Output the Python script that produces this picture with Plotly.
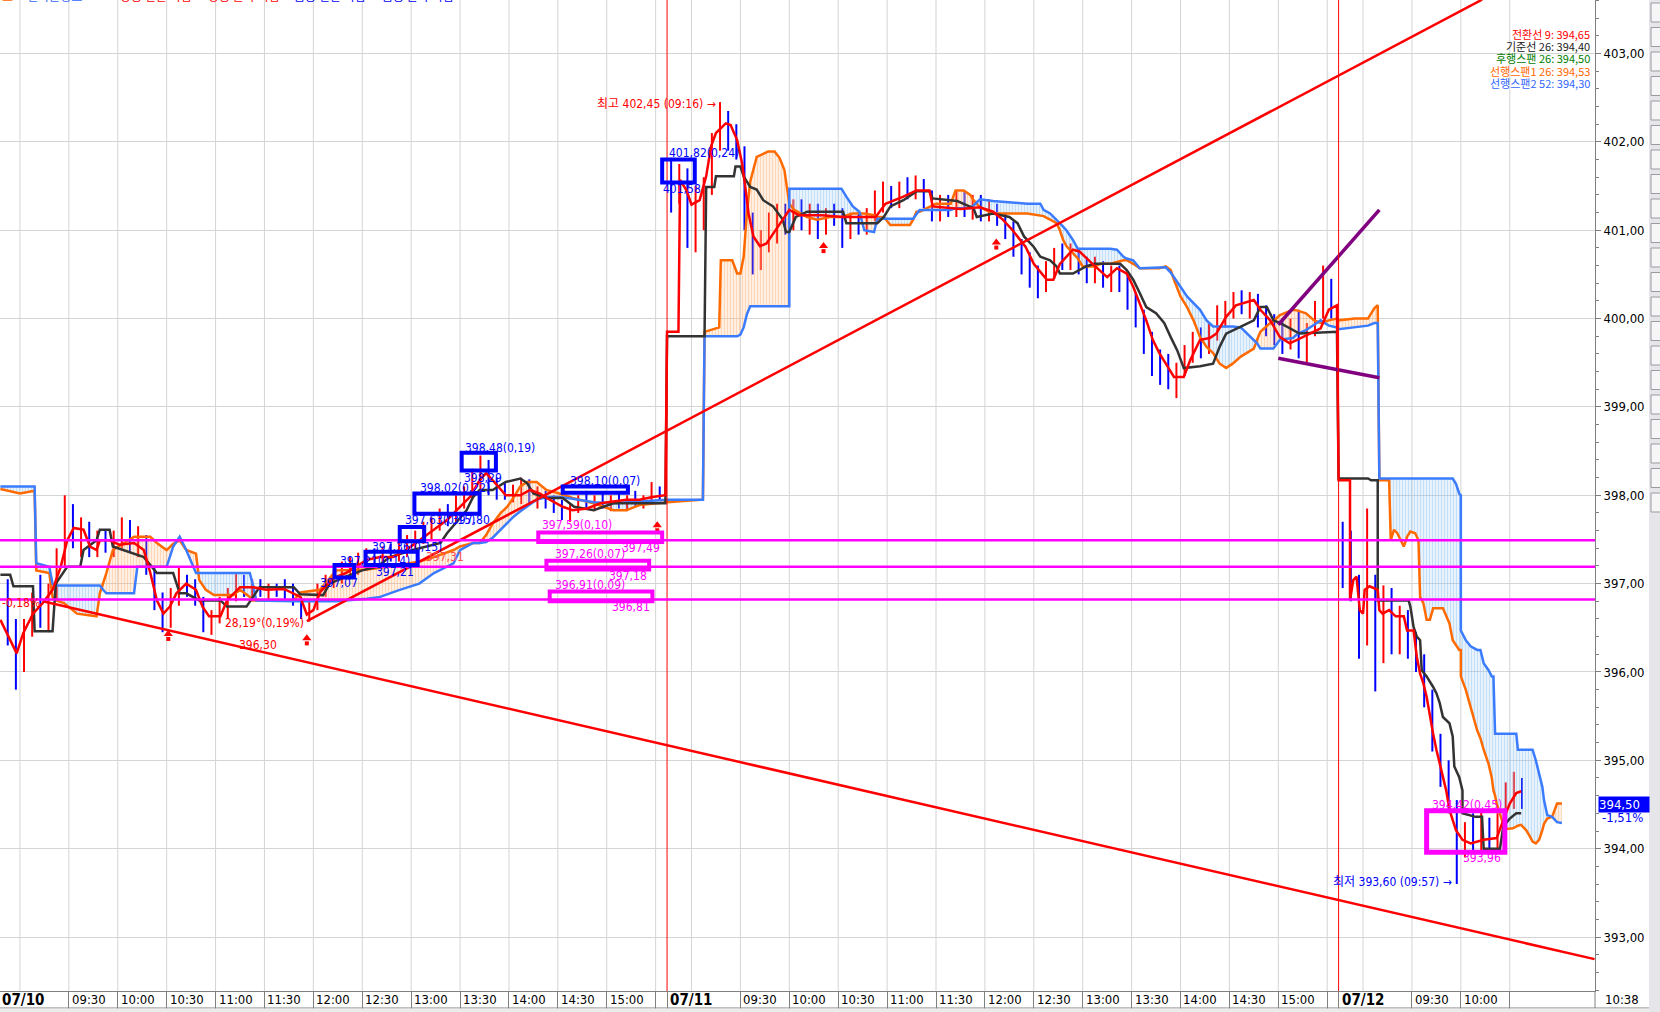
import numpy as np
import plotly.graph_objects as go

# ---------------- axes / layout constants ----------------
DAY_LEN = 412                 # 1-minute bars per session (08:45 - 15:36)
X_MIN, X_MAX = 2.76, 981.3    # visible bar-index range
Y_MIN, Y_MAX = 392.389, 403.606
PW, PH = 1595, 991            # plot area in px
FN = "Liberation Sans Narrow, Arial Narrow, DejaVu Sans Condensed, Noto Sans CJK KR, sans-serif"
FK = "Noto Sans CJK KR, sans-serif"

def tx(s):
    """'DD HH:MM' -> bar index on the session axis"""
    d = int(s[:2]) - 10
    return d * DAY_LEN + int(s[3:5]) * 60 + int(s[6:8]) - 525

# ---------------- 5-minute candles ----------------
d10_start = "10 08:50"
d10_open = [396.9,396.4,396.1,396.5,396.8,396.6,396.9,397.3,397.7,397.5,
            397.6,397.4,397.55,397.45,397.5,397.6,397.4,397.5,397.15,396.8,
            396.6,396.9,397.0,396.95,396.8,396.55,396.65,396.8,396.9,397.0,
            396.9,396.95,396.9,396.95,396.9,396.85,396.8,396.65,396.75,396.95,
            397.0,397.1,397.15,397.2,397.25,397.3,397.28,397.35,397.3,397.4,
            397.45,397.55,397.6,397.7,397.8,397.75,397.95,398.05,398.2,398.3,
            398.1,398.05,398.0,398.05,398.1,397.95,398.0,397.9,397.85,397.8,
            397.85,397.95,397.9,397.95,397.9,397.95,397.9,397.95,397.92,397.95,
            398.05]
d10_high = [397.05,396.6,396.6,396.9,397.1,397.0,397.4,398.0,397.9,397.75,
            397.7,397.6,397.6,397.6,397.75,397.72,397.65,397.55,397.2,396.9,
            396.95,397.2,397.1,397.05,396.85,396.7,396.85,396.95,397.12,397.1,
            397.05,397.05,397.0,397.0,397.05,397.0,396.85,396.8,397.0,397.1,
            397.15,397.25,397.3,397.35,397.4,397.4,397.42,397.45,397.5,397.55,
            397.6,397.7,397.75,397.85,397.9,398.0,398.1,398.3,398.45,398.4,
            398.2,398.15,398.12,398.2,398.18,398.1,398.05,398.0,397.95,397.9,
            398.0,398.05,398.0,398.02,398.0,398.02,398.0,398.05,398.0,398.15,
            398.1]
d10_low = [396.3,395.8,396.0,396.4,396.5,396.45,396.8,397.2,397.4,397.3,
           397.3,397.3,397.35,397.3,397.4,397.35,397.3,397.1,396.7,396.45,
           396.5,396.75,396.85,396.75,396.45,396.42,396.55,396.6,396.8,396.85,
           396.8,396.85,396.82,396.85,396.8,396.75,396.6,396.57,396.7,396.85,
           396.95,397.0,397.05,397.1,397.15,397.2,397.2,397.25,397.25,397.3,
           397.38,397.45,397.5,397.6,397.65,397.7,397.85,397.95,398.05,398.0,
           397.95,397.95,397.92,397.9,397.9,397.85,397.85,397.8,397.72,397.7,
           397.8,397.85,397.82,397.85,397.82,397.85,397.82,397.88,397.85,397.9,
           397.95]
d10_close = [396.4,396.1,396.5,396.8,396.6,396.9,397.3,397.7,397.5,397.6,
             397.4,397.55,397.45,397.5,397.6,397.4,397.5,397.15,396.8,396.6,
             396.9,397.0,396.95,396.8,396.55,396.65,396.8,396.9,397.0,396.9,
             396.95,396.9,396.95,396.9,396.85,396.8,396.65,396.75,396.95,397.0,
             397.1,397.15,397.2,397.25,397.3,397.28,397.35,397.3,397.4,397.45,
             397.55,397.6,397.7,397.8,397.75,397.95,398.05,398.2,398.3,398.1,
             398.05,398.0,398.05,398.1,397.95,398.0,397.9,397.85,397.8,397.85,
             397.95,397.9,397.95,397.9,397.95,397.9,397.95,397.92,397.95,398.05,
             398.0]

d11_start = "11 08:45"
d11_open = [401.75,401.4,401.6,401.1,401.3,401.5,402.0,402.2,402.0,401.9,
            401.1,400.7,400.9,401.0,401.2,401.1,401.25,401.1,401.2,401.05,
            401.2,401.15,400.95,401.1,401.0,401.2,401.35,401.45,401.3,401.5,
            401.45,401.55,401.3,401.2,401.3,401.25,401.35,401.25,401.3,401.2,
            401.25,401.1,401.0,400.8,400.6,400.45,400.4,400.55,400.7,400.65,
            400.75,400.6,400.5,400.6,400.45,400.5,400.4,400.2,400.0,399.7,
            399.5,399.4,399.35,399.45,399.6,399.75,399.7,399.85,400.05,400.1,
            400.2,400.15,400.25,400.0,399.9,399.8,399.75,399.9,399.7,399.85,
            400.1,400.3]
d11_high = [401.82,401.75,401.7,401.5,401.6,402.1,402.45,402.35,402.2,401.95,
            401.2,401.0,401.2,401.3,401.3,401.35,401.35,401.3,401.3,401.25,
            401.3,401.25,401.2,401.2,401.25,401.45,401.55,401.5,401.55,401.6,
            401.62,401.58,401.45,401.4,401.4,401.45,401.45,401.4,401.4,401.35,
            401.3,401.2,401.1,400.9,400.75,400.6,400.65,400.8,400.85,400.85,
            400.8,400.7,400.7,400.65,400.6,400.6,400.5,400.3,400.1,399.85,
            399.65,399.6,399.5,399.7,399.85,399.9,399.95,400.15,400.2,400.3,
            400.32,400.3,400.28,400.15,400.05,400.0,400.0,400.1,399.95,400.2,
            400.6,400.45]
d11_low = [401.2,401.3,400.8,400.75,401.0,401.4,401.9,401.9,401.8,401.0,
           400.5,400.55,400.75,400.85,400.95,401.0,401.0,400.95,400.9,400.95,
           401.05,400.8,400.9,400.95,400.95,401.1,401.2,401.25,401.25,401.35,
           401.35,401.25,401.1,401.1,401.15,401.15,401.15,401.12,401.1,401.1,
           401.05,400.9,400.7,400.5,400.35,400.23,400.3,400.45,400.55,400.55,
           400.5,400.4,400.4,400.35,400.3,400.3,400.1,399.9,399.6,399.35,
           399.25,399.2,399.1,399.35,399.5,399.55,399.6,399.75,399.9,400.0,
           400.05,400.0,399.9,399.8,399.7,399.6,399.65,399.55,399.5,399.8,
           400.0,400.0]
d11_close = [401.4,401.6,401.1,401.3,401.5,402.0,402.2,402.0,401.9,401.1,
             400.7,400.9,401.0,401.2,401.1,401.25,401.1,401.2,401.05,401.2,
             401.15,400.95,401.1,401.0,401.2,401.35,401.45,401.3,401.5,401.45,
             401.55,401.3,401.2,401.3,401.25,401.35,401.25,401.3,401.2,401.25,
             401.1,401.0,400.8,400.6,400.45,400.4,400.55,400.7,400.65,400.75,
             400.6,400.5,400.6,400.45,400.5,400.4,400.2,400.0,399.7,399.5,
             399.4,399.35,399.45,399.6,399.75,399.7,399.85,400.05,400.1,400.2,
             400.15,400.25,400.0,399.9,399.8,399.75,399.9,399.7,399.85,400.1,
             400.3,400.2]

d12_start = "12 08:45"
d12_open = [397.6,397.1,396.9,396.4,397.0,396.6,396.8,396.5,396.6,396.3,396.1,395.7,
            395.2,394.85,394.5,394.0,394.2,394.05,394.3,394.1,394.3,394.6,394.65]
d12_high = [397.7,397.6,397.1,397.85,397.1,396.98,396.95,396.75,396.7,396.45,396.2,395.8,
            395.3,395.0,394.55,394.3,394.4,394.42,394.35,394.4,394.75,394.87,394.8]
d12_low = [396.95,396.8,396.15,396.3,395.78,396.1,396.2,396.2,396.15,396.0,395.6,395.1,
           394.7,394.4,393.6,393.9,393.96,393.98,393.96,394.0,394.25,394.45,394.45]
d12_close = [397.1,396.9,396.4,397.0,396.6,396.8,396.5,396.6,396.3,396.1,395.7,395.2,
             394.85,394.5,394.0,394.2,394.05,394.3,394.1,394.3,394.6,394.65,394.5]

# ---------------- Ichimoku lines ----------------
tenkan_t = ["10 08:48","10 08:54","10 08:58","10 09:02","10 09:08","10 09:14","10 09:20","10 09:25",
            "10 09:29","10 09:33","10 09:39","10 09:43","10 09:47","10 09:49","10 09:55","10 10:01",
            "10 10:10","10 10:16","10 10:20","10 10:24","10 10:28","10 10:32","10 10:36","10 10:42",
            "10 10:48","10 10:52","10 10:56","10 11:03","10 11:07","10 11:15","10 11:23","10 11:31",
            "10 11:42","10 11:52","10 11:56","10 12:00","10 12:04","10 12:12","10 12:20","10 12:26",
            "10 12:33","10 12:41","10 12:49","10 12:57","10 13:05","10 13:14","10 13:22","10 13:30",
            "10 13:36","10 13:42","10 13:46","10 13:52","10 13:58","10 14:07","10 14:13","10 14:19",
            "10 14:25","10 14:33","10 14:39","10 14:48","10 14:56","10 15:04","10 15:12","10 15:20",
            "10 15:28","10 15:36",
            "11 08:45","11 08:52","11 08:53","11 08:57","11 09:00","11 09:05","11 09:09","11 09:12",
            "11 09:15","11 09:21","11 09:24","11 09:28","11 09:31","11 09:33","11 09:35","11 09:38",
            "11 09:42","11 09:46","11 09:49","11 09:52","11 09:56","11 10:00","11 10:06","11 10:20",
            "11 10:33","11 10:53","11 10:59","11 11:10","11 11:18","11 11:26","11 11:28","11 11:45",
            "11 11:57","11 12:05","11 12:11","11 12:17","11 12:25","11 12:30","11 12:38","11 12:42",
            "11 12:46","11 12:54","11 12:58","11 13:06","11 13:15","11 13:21","11 13:27","11 13:31",
            "11 13:35","11 13:39","11 13:43","11 13:47","11 13:51","11 13:56","11 14:02","11 14:06",
            "11 14:12","11 14:18","11 14:22","11 14:28","11 14:34","11 14:45","11 14:49","11 14:55",
            "11 15:01","11 15:07","11 15:15","11 15:26","11 15:31","11 15:36",
            "12 08:45","12 08:52","12 08:52","12 08:54","12 08:56","12 08:58","12 09:00","12 09:01",
            "12 09:04","12 09:09","12 09:10","12 09:12","12 09:16","12 09:20","12 09:25","12 09:27",
            "12 09:31","12 09:33","12 09:35","12 09:37","12 09:39","12 09:41","12 09:43","12 09:45",
            "12 09:47","12 09:49","12 09:51","12 09:53","12 09:57","12 10:01","12 10:06","12 10:14",
            "12 10:22","12 10:26","12 10:30","12 10:34","12 10:37"]
tenkan_v = [396.59,396.36,396.21,396.44,396.66,396.78,396.93,397.19,
            397.49,397.63,397.61,397.42,397.38,397.49,397.49,397.44,
            397.46,397.38,397.12,396.81,396.66,396.74,396.89,397.0,
            396.93,396.74,396.63,396.63,396.81,396.96,396.96,396.93,
            396.94,396.85,396.65,396.70,396.90,397.06,397.12,397.19,
            397.27,397.30,397.30,397.38,397.49,397.61,397.72,397.87,
            397.98,398.17,398.25,398.13,398.0,398.0,398.06,398.02,
            397.95,397.87,397.83,397.85,397.91,397.93,397.95,397.95,
            397.98,398.0,
            399.85,399.85,401.57,401.45,401.29,401.34,401.61,401.95,
            402.10,402.21,402.19,402.02,401.76,401.49,401.19,400.93,
            400.82,400.85,400.93,401.0,401.12,401.23,401.17,401.17,
            401.15,401.15,401.30,401.38,401.45,401.45,401.27,401.24,
            401.26,401.21,401.12,401.0,400.81,400.62,400.44,400.44,
            400.62,400.78,400.76,400.62,400.47,400.57,400.51,400.36,
            400.17,399.98,399.76,399.61,399.49,399.34,399.34,399.53,
            399.76,399.78,399.83,400.02,400.15,400.21,400.10,399.98,
            399.79,399.72,399.79,399.89,400.10,400.15,
            398.17,398.17,396.81,397.04,397.08,396.70,396.66,396.93,
            396.97,396.93,396.70,396.66,396.70,396.63,396.63,396.47,
            396.47,396.17,395.98,395.87,395.72,395.49,395.30,395.12,
            394.97,394.81,394.66,394.44,394.21,394.10,394.06,394.10,
            394.12,394.32,394.51,394.63,394.65]

kijun_t = ["10 08:48","10 08:54","10 08:56","10 09:08","10 09:09","10 09:20","10 09:22","10 09:29",
           "10 09:37","10 09:39","10 09:47","10 09:49","10 09:55","10 09:57","10 10:16","10 10:24",
           "10 10:34","10 10:38","10 10:42","10 10:50","10 11:03","10 11:07","10 11:19","10 11:23",
           "10 11:27","10 11:48","10 11:52","10 12:06","10 12:10","10 12:20","10 12:30","10 12:39",
           "10 12:47","10 13:01","10 13:10","10 13:18","10 13:22","10 13:26","10 13:34","10 13:38",
           "10 13:42","10 13:50","10 13:58","10 14:07","10 14:11","10 14:15","10 14:23","10 14:33",
           "10 14:40","10 14:52","10 15:04","10 15:36",
           "11 08:45","11 09:08","11 09:09","11 09:14","11 09:15","11 09:26","11 09:27","11 09:30",
           "11 09:32","11 09:36","11 09:40","11 09:44","11 09:50","11 09:56","11 09:58","11 10:00",
           "11 10:04","11 10:11","11 10:33","11 10:35","11 10:54","11 10:58","11 11:02","11 11:10",
           "11 11:18","11 11:26","11 11:28","11 11:43","11 11:53","11 11:55","11 12:05","11 12:15",
           "11 12:20","11 12:24","11 12:30","11 12:34","11 12:40","11 12:44","11 12:46","11 12:54",
           "11 13:02","11 13:07","11 13:23","11 13:27","11 13:31","11 13:35","11 13:39","11 13:45",
           "11 13:50","11 13:54","11 13:58","11 14:01","11 14:02","11 14:12","11 14:20","11 14:24",
           "11 14:28","11 14:37","11 14:45","11 14:49","11 14:53","11 14:57","11 15:01","11 15:13",
           "11 15:36",
           "12 08:45","12 09:03","12 09:05","12 09:09","12 09:09","12 09:28","12 09:29","12 09:31",
           "12 09:33","12 09:35","12 09:36","12 09:39","12 09:43","12 09:45","12 09:47","12 09:49",
           "12 09:53","12 09:55","12 09:56","12 09:59","12 10:01","12 10:01","12 10:09","12 10:13",
           "12 10:14","12 10:24","12 10:26","12 10:30","12 10:34","12 10:37"]
kijun_v = [397.10,397.10,396.97,396.97,396.46,396.46,397.0,397.19,
           397.19,397.38,397.49,397.61,397.61,397.42,397.30,397.12,
           397.12,396.89,396.89,396.81,396.81,396.74,396.74,396.85,
           396.96,396.96,396.88,396.87,397.0,397.08,397.15,397.19,
           397.30,397.38,397.42,397.46,397.57,397.66,397.83,397.98,
           398.06,398.06,398.15,398.19,398.14,398.02,397.97,397.97,
           397.87,397.83,397.91,397.91,
           399.80,399.80,401.49,401.49,401.61,401.61,401.72,401.72,
           401.61,401.49,401.46,401.34,401.27,401.12,400.98,400.98,
           401.15,401.21,401.21,401.08,401.08,401.15,401.27,401.34,
           401.44,401.44,401.36,401.33,401.25,401.15,401.19,401.15,
           401.08,400.93,400.81,400.70,400.66,400.59,400.51,400.51,
           400.59,400.62,400.62,400.55,400.44,400.29,400.13,400.06,
           399.95,399.79,399.64,399.49,399.44,399.46,399.49,399.68,
           399.83,399.91,399.98,400.13,400.13,399.98,399.95,399.83,
           399.85,
           398.19,398.19,398.17,398.17,396.81,396.81,396.74,396.51,
           396.40,396.36,396.02,395.95,395.83,395.76,395.65,395.49,
           395.42,395.27,394.93,394.81,394.66,394.40,394.36,394.36,
           394.0,394.0,394.25,394.34,394.40,394.40]

span_t = ["10 08:48","10 09:00","10 09:09","10 09:10","10 09:18","10 09:20","10 09:22","10 09:27",
          "10 09:35","10 09:47","10 09:49","10 09:51","10 09:53","10 09:57","10 10:10","10 10:12",
          "10 10:20","10 10:24","10 10:30","10 10:34","10 10:38","10 10:42","10 10:48","10 10:50",
          "10 10:54","10 10:59","10 11:11","10 11:15","10 11:21","10 11:23","10 11:25","10 11:48",
          "10 11:52","10 12:04","10 12:14","10 12:33","10 12:41","10 12:53","10 13:05","10 13:14",
          "10 13:26","10 13:30","10 13:38","10 13:42","10 13:46","10 13:50","10 13:55","10 13:59",
          "10 14:03","10 14:07","10 14:11","10 14:17","10 14:23","10 14:31","10 14:39","10 14:52",
          "10 15:04","10 15:12","10 15:20","10 15:36",
          "11 08:45","11 09:07","11 09:08","11 09:17","11 09:18","11 09:25","11 09:28","11 09:30",
          "11 09:32","11 09:34","11 09:36","11 09:40","11 09:47","11 09:51","11 09:54","11 09:57",
          "11 10:00","11 10:00","11 10:03","11 10:05","11 10:11","11 10:17","11 10:25","11 10:32",
          "11 10:35","11 10:39","11 10:43","11 10:46","11 10:52","11 10:54","11 10:58","11 11:02",
          "11 11:14","11 11:16","11 11:18","11 11:20","11 11:30","11 11:39","11 11:42","11 11:47",
          "11 11:51","11 11:53","11 11:57","11 12:05","11 12:26","11 12:34","11 12:36","11 12:40",
          "11 12:44","11 12:46","11 12:48","11 12:50","11 12:54","11 12:57","11 13:00","11 13:07",
          "11 13:11","11 13:17","11 13:21","11 13:25","11 13:27","11 13:31","11 13:35","11 13:47",
          "11 13:51","11 13:54","11 13:56","11 14:00","11 14:04","11 14:08","11 14:12","11 14:16",
          "11 14:20","11 14:24","11 14:28","11 14:32","11 14:37","11 14:41","11 14:45","11 14:47",
          "11 14:49","11 14:55","11 14:57","11 15:01","11 15:09","11 15:12","11 15:17","11 15:22",
          "11 15:26","11 15:31","11 15:36",
          "12 08:45","12 08:55","12 09:03","12 09:07","12 09:09","12 09:10","12 09:16","12 09:17",
          "12 09:19","12 09:21","12 09:25","12 09:27","12 09:29","12 09:32","12 09:34","12 09:35",
          "12 09:37","12 09:39","12 09:41","12 09:43","12 09:49","12 09:51","12 09:53","12 09:55",
          "12 09:57","12 09:59","12 10:00","12 10:00","12 10:03","12 10:06","12 10:10","12 10:12",
          "12 10:14","12 10:17","12 10:19","12 10:20","12 10:21","12 10:22","12 10:24","12 10:27",
          "12 10:32","12 10:34","12 10:35","12 10:37","12 10:40","12 10:42","12 10:44","12 10:46",
          "12 10:48","12 10:50","12 10:51","12 10:53","12 10:56","12 10:59","12 11:02"]
span1_v = [398.07,398.02,398.05,397.15,397.12,396.85,396.81,396.78,
           396.66,396.63,396.89,397.0,397.12,397.38,397.53,397.53,
           397.53,397.46,397.38,397.45,397.49,397.38,397.34,397.04,
           396.93,396.87,396.87,396.93,396.85,396.81,396.81,396.81,
           396.90,396.93,397.15,397.16,397.18,397.21,397.25,397.30,
           397.38,397.42,397.46,397.46,397.55,397.68,397.80,397.87,
           397.98,398.10,398.15,398.15,398.06,398.02,397.97,397.91,
           397.83,397.83,397.89,397.92,
           397.92,397.95,399.85,399.90,400.66,400.66,400.51,400.51,
           400.70,401.20,401.55,401.83,401.89,401.89,401.82,401.68,
           401.32,401.30,401.23,401.21,401.15,401.12,401.15,401.15,
           401.17,401.19,401.19,401.19,401.17,401.15,401.15,401.06,
           401.06,401.12,401.21,401.21,401.30,401.30,401.45,401.45,
           401.40,401.34,401.26,401.19,401.19,401.17,401.16,401.12,
           401.08,401.0,400.89,400.82,400.74,400.68,400.59,400.59,
           400.62,400.62,400.64,400.66,400.66,400.62,400.57,400.57,
           400.59,400.55,400.44,400.25,400.13,399.98,399.79,399.68,
           399.61,399.49,399.44,399.49,399.57,399.62,399.66,399.76,
           399.85,399.95,399.97,400.04,400.10,400.09,400.06,399.98,
           399.95,399.98,400.00,
           399.98,400.0,400.0,400.12,400.15,398.17,398.17,397.49,
           397.61,397.57,397.42,397.53,397.59,397.57,397.49,396.85,
           396.78,396.59,396.59,396.72,396.72,396.63,396.55,396.36,
           396.30,396.25,396.25,395.95,395.80,395.61,395.34,395.25,
           395.12,394.96,394.80,394.66,394.60,394.51,394.40,394.22,
           394.23,394.25,394.26,394.27,394.21,394.15,394.08,394.06,
           394.10,394.21,394.28,394.34,394.36,394.51,394.51]
span2_v = [398.10,398.10,398.10,397.23,397.19,397.0,396.98,396.98,
           396.98,396.98,396.98,396.93,396.89,396.89,396.89,397.19,
           397.19,397.19,397.19,397.42,397.53,397.38,397.12,397.12,
           397.12,397.12,397.12,397.12,397.12,396.98,396.81,396.80,
           396.80,396.80,396.80,396.83,396.85,396.93,397.0,397.12,
           397.23,397.38,397.46,397.46,397.47,397.52,397.61,397.68,
           397.76,397.82,397.87,397.95,397.98,397.98,397.96,397.92,
           397.91,397.92,397.93,397.95,
           397.95,397.95,399.80,399.80,399.80,399.80,399.80,399.82,
           399.90,400.05,400.14,400.14,400.14,400.14,400.14,400.14,
           400.14,401.47,401.47,401.47,401.47,401.47,401.47,401.47,
           401.38,401.27,401.21,401.0,400.98,401.13,401.13,401.13,
           401.13,401.13,401.18,401.23,401.23,401.23,401.25,401.25,
           401.25,401.28,401.35,401.33,401.30,401.30,401.23,401.19,
           401.12,401.08,401.04,401.0,400.89,400.79,400.79,400.79,
           400.79,400.79,400.78,400.70,400.68,400.66,400.57,400.58,
           400.58,400.52,400.47,400.36,400.25,400.17,400.10,399.98,
           399.91,399.91,399.91,399.91,399.90,399.83,399.76,399.72,
           399.66,399.66,399.66,399.76,399.78,399.83,399.87,399.93,
           399.98,399.92,399.90,
           399.88,399.90,399.92,399.95,399.95,398.19,398.19,398.19,
           398.19,398.19,398.19,398.19,398.19,398.19,398.19,398.19,
           398.19,398.19,398.19,398.19,398.19,398.19,398.19,398.19,
           398.13,398.02,398.0,396.47,396.36,396.29,396.25,396.25,
           396.10,396.02,395.95,395.95,395.30,395.30,395.30,395.30,
           395.30,395.30,395.12,395.12,395.12,395.12,395.12,395.0,
           394.85,394.70,394.55,394.38,394.36,394.30,394.29]

# ---------------- drawings ----------------
trend_down = (["10 09:14", "12 11:22"], [396.80, 392.75])
trend_up = (["10 11:56", "12 10:13"], [396.575, 403.61])
purple_up = (["11 15:00", "12 09:10"], [399.93, 401.23])
purple_dn = (["11 15:00", "12 09:10"], [399.55, 399.33])
magenta_levels = [397.49, 397.19, 396.82]
day_breaks = ["11 08:45", "12 08:45"]
blue_boxes = [("10 12:13", "10 12:25", 397.07, 397.21),
              ("10 12:32", "10 13:04", 397.21, 397.36),
              ("10 12:53", "10 13:08", 397.48, 397.64),
              ("10 13:31", "10 13:52", 398.28, 398.48),
              ("10 13:02", "10 13:42", 397.79, 398.02),
              ("10 14:33", "10 15:13", 398.03, 398.10),
              ("10 15:34", "11 09:02", 401.54, 401.80)]
magenta_boxes = [("10 14:18", "10 15:34", 397.47, 397.58),
                 ("10 14:23", "10 15:26", 397.16, 397.26),
                 ("10 14:25", "10 15:28", 396.80, 396.91),
                 ("12 09:39", "12 10:27", 393.96, 394.43)]
arrows = [("10 10:31", 396.47), ("10 11:56", 396.42), ("10 15:31", 397.70),
          ("11 10:21", 400.86), ("11 12:07", 400.90)]
labels = [  # time, price, text, color, anchor
    ("10 13:32", 398.54, "398,48(0,19)", "#0000ff", "left"),
    ("10 13:31", 398.20, "398,29", "#0000ff", "left"),
    ("10 13:04", 398.08, "398,02(0,22)", "#0000ff", "left"),
    ("10 13:24", 397.72, "397,80", "#0000ff", "left"),
    ("10 12:55", 397.72, "397,63(0,15)", "#0000ff", "left"),
    ("10 12:35", 397.42, "397,36(0,15)", "#0000ff", "left"),
    ("10 12:37", 397.13, "397,21", "#0000ff", "left"),
    ("10 12:15", 397.26, "397,21(0,14)", "#0000ff", "left"),
    ("10 12:03", 397.01, "397,07", "#0000ff", "left"),
    ("10 14:36", 398.16, "398,10(0,07)", "#0000ff", "left"),
    ("11 08:45", 401.87, "401,82(0,24)", "#0000ff", "left"),
    ("10 15:33", 401.47, "401,58", "#0000ff", "left"),
    ("12 09:56", 393.62, "최저 393,60 (09:57) →", "#0000ff", "right"),
    ("11 09:16", 402.43, "최고 402,45 (09:16) →", "#ff0000", "right"),
    ("10 11:30", 396.55, "28,19°(0,19%)", "#ff0000", "center"),
    ("10 11:26", 396.30, "396,30", "#ff0000", "center"),
    ("10 13:21", 397.30, "397,31", "#ff5050", "center"),
    ("10 14:19", 397.66, "397,59(0,10)", "#ff00ff", "left"),
    ("10 15:34", 397.40, "397,49", "#ff00ff", "right"),
    ("10 14:27", 397.33, "397,26(0,07)", "#ff00ff", "left"),
    ("10 15:26", 397.09, "397,18", "#ff00ff", "right"),
    ("10 14:27", 396.98, "396,91(0,09)", "#ff00ff", "left"),
    ("10 15:28", 396.73, "396,81", "#ff00ff", "right"),
    ("12 09:41", 394.50, "394,42(0,45)", "#ff00ff", "left"),
    ("12 10:26", 393.90, "393,96", "#ff00ff", "right"),
]
legend_rows = [("전환선 9: 394,65", "#ff0000"), ("기준선 26: 394,40", "#222222"),
               ("후행스팬 26: 394,50", "#008000"), ("선행스팬1 26: 394,53", "#ff6600"),
               ("선행스팬2 52: 394,30", "#3366ff")]
last_price, last_change = "394,50", "-1,51%"
y_ticks = [393, 394, 395, 396, 397, 398, 399, 400, 401, 402, 403]
y_ticktext = ["393,00", "394,00", "395,00", "396,00", "397,00", "398,00", "399,00",
              "400,00", "401,00", "402,00", "403,00"]
date_labels = [("10", "07/10"), ("11", "07/11"), ("12", "07/12")]
time_labels = ["09:30", "10:00", "10:30", "11:00", "11:30", "12:00", "12:30", "13:00",
               "13:30", "14:00", "14:30", "15:00"]
time_labels_d12 = ["09:30", "10:00"]
grid_times = ["09:00", "09:30", "10:00", "10:30", "11:00", "11:30", "12:00", "12:30",
              "13:00", "13:30", "14:00", "14:30", "15:00", "15:30"]
grid_times_d12 = ["09:00", "09:30", "10:00", "10:30"]
sep_times = ["09:30", "10:00", "10:30", "11:00", "11:30", "12:00", "12:30", "13:00",
             "13:30", "14:00", "14:30", "15:00", "15:30"]
sep_times_d12 = ["09:30", "10:00", "10:30"]
now_label = "10:38"

# ---------------- build figure ----------------
fig = go.Figure()

sx = [tx(t) for t in span_t]
s1 = np.array(span1_v)
s2 = np.array(span2_v)
upper = np.maximum(s1, s2)
lower = np.minimum(s1, s2)
nolines = dict(width=0, color="rgba(0,0,0,0)")
# orange cloud (span1 above span2)
fig.add_trace(go.Scatter(x=sx, y=s2, mode="lines", line=nolines, hoverinfo="skip"))
fig.add_trace(go.Scatter(x=sx, y=upper, mode="lines", line=nolines, fill="tonexty",
                         fillcolor="rgba(0,0,0,0)",
                         fillpattern=dict(shape="|", fgcolor="#ffb070", size=3, solidity=0.6),
                         hoverinfo="skip"))
# blue cloud (span2 above span1)
fig.add_trace(go.Scatter(x=sx, y=s2, mode="lines", line=nolines, hoverinfo="skip"))
fig.add_trace(go.Scatter(x=sx, y=lower, mode="lines", line=nolines, fill="tonexty",
                         fillcolor="rgba(0,0,0,0)",
                         fillpattern=dict(shape="|", fgcolor="#88c0f2", size=3, solidity=0.6),
                         hoverinfo="skip"))
fig.add_trace(go.Scatter(x=sx, y=span1_v, mode="lines", line=dict(color="#ff6a00", width=2.5),
                         hoverinfo="skip"))
fig.add_trace(go.Scatter(x=sx, y=span2_v, mode="lines", line=dict(color="#3b7cff", width=2.5),
                         hoverinfo="skip"))

# candles
cx, co, ch, cl, cc = [], [], [], [], []
for start, o, h, l, c in [(d10_start, d10_open, d10_high, d10_low, d10_close),
                          (d11_start, d11_open, d11_high, d11_low, d11_close),
                          (d12_start, d12_open, d12_high, d12_low, d12_close)]:
    x0 = tx(start)
    for i in range(len(o)):
        cx.append(x0 + 5 * i + 2.5)
    co += o; ch += h; cl += l; cc += c
fig.add_trace(go.Ohlc(x=cx, open=co, high=ch, low=cl, close=cc, tickwidth=0,
                      increasing=dict(line=dict(color="#ff0000", width=2)),
                      decreasing=dict(line=dict(color="#0000ff", width=2)),
                      hoverinfo="skip"))

fig.add_trace(go.Scatter(x=[tx(t) for t in kijun_t], y=kijun_v, mode="lines",
                         line=dict(color="#333333", width=2.5), hoverinfo="skip"))
fig.add_trace(go.Scatter(x=[tx(t) for t in tenkan_t], y=tenkan_v, mode="lines",
                         line=dict(color="#ff0000", width=2.5), hoverinfo="skip"))

# trend lines
for (tt, vv), col, w in [(trend_down, "#ff0000", 2.5), (trend_up, "#ff0000", 2.5),
                         (purple_up, "#800080", 3.5), (purple_dn, "#800080", 3.5)]:
    fig.add_trace(go.Scatter(x=[tx(t) for t in tt], y=vv, mode="lines",
                             line=dict(color=col, width=w), hoverinfo="skip"))

# arrows
px_price = (Y_MAX - Y_MIN) / PH
ax_ = [tx(t) for t, p in arrows]
fig.add_trace(go.Scatter(x=ax_, y=[p - 3.5 * px_price for t, p in arrows], mode="markers",
                         marker=dict(symbol="triangle-up", size=8, color="#ff0000"),
                         hoverinfo="skip"))
fig.add_trace(go.Scatter(x=ax_, y=[p - 8.5 * px_price for t, p in arrows], mode="markers",
                         marker=dict(symbol="square", size=4, color="#ff0000"),
                         hoverinfo="skip"))

# vertical grid (below)
grid_x = [tx(f"{d} {g}") for d in ("10", "11") for g in grid_times] + \
         [tx(f"12 {g}") for g in grid_times_d12]
for gx in grid_x:
    fig.add_shape(type="line", x0=gx, x1=gx, y0=Y_MIN, y1=Y_MAX, xref="x", yref="y",
                  line=dict(color="#d4d4d4", width=1), layer="below")

# day breaks
for t in day_breaks:
    fig.add_shape(type="line", x0=tx(t), x1=tx(t), y0=Y_MIN, y1=Y_MAX, xref="x", yref="y",
                  line=dict(color="#ff0000", width=1))
# magenta levels
for lv in magenta_levels:
    fig.add_shape(type="line", x0=X_MIN, x1=X_MAX, y0=lv, y1=lv, xref="x", yref="y",
                  line=dict(color="#ff00ff", width=2.5))
for t0, t1, lo, hi in blue_boxes:
    fig.add_shape(type="rect", x0=tx(t0), x1=tx(t1), y0=lo, y1=hi, xref="x", yref="y",
                  line=dict(color="#0000ff", width=4))
for i, (t0, t1, lo, hi) in enumerate(magenta_boxes):
    fig.add_shape(type="rect", x0=tx(t0), x1=tx(t1), y0=lo, y1=hi, xref="x", yref="y",
                  line=dict(color="#ff00ff", width=5 if i == 3 else 4))

for t, p, txt, col, anc in labels:
    fig.add_annotation(x=tx(t), y=p, text=txt, showarrow=False, xanchor=anc, yanchor="middle",
                       font=dict(family=FN, size=12, color=col))
fig.add_annotation(x=0, xref="paper", y=396.78, yref="y", text="-0,18%", showarrow=False,
                   xanchor="left", font=dict(family=FN, size=12, color="#ff0000"))

# legend block (top right)
for i, (txt, col) in enumerate(legend_rows):
    ypx = 34.3 + i * 12.1
    fig.add_annotation(x=1590.7 / PW, xref="paper", y=1 - ypx / PH, yref="paper", text=txt,
                       showarrow=False, xanchor="right", yanchor="middle", borderpad=0,
                       font=dict(family="Liberation Sans Narrow, Noto Sans CJK KR, sans-serif",
                                 size=11, color=col))

# cut-off header texts at the very top
header = [(0, "표", "#ff6600"), (25, "일목균형표", "#3366ff"), (103, "-", "#999999"),
          (118, "양봉 전환 시점", "#ff0000"), (190, "-", "#999999"),
          (206, "양봉 돌파 시점", "#ff0000"), (278, "-", "#999999"),
          (292, "음봉 전환 시점", "#0000ff"), (365, "-", "#999999"),
          (380, "음봉 돌파 시점", "#0000ff")]
for xp, txt, col in header:
    fig.add_annotation(x=xp / PW, xref="paper", y=1 - 6 / PH, yref="paper", text=txt,
                       showarrow=False, xanchor="left", yanchor="bottom",
                       font=dict(family=FK, size=12, color=col))

# x-axis labels (left aligned beside separators)
ylab = 1 - 999.5 / PH
fig.add_annotation(x=0, xref="paper", y=ylab, yref="paper", text="<b>07/10</b>",
                   showarrow=False, xanchor="left", yanchor="middle",
                   font=dict(family=FN, size=15, color="#000000"))
for d, txt in date_labels[1:]:
    fig.add_annotation(x=tx(f"{d} 08:45") + 0.6, y=ylab, yref="paper", text=f"<b>{txt}</b>",
                       showarrow=False, xanchor="left", yanchor="middle",
                       font=dict(family=FN, size=15, color="#000000"))
for d in ("10", "11"):
    for tl in time_labels:
        fig.add_annotation(x=tx(f"{d} {tl}") + 0.6, y=ylab, yref="paper", text=tl,
                           showarrow=False, xanchor="left", yanchor="middle",
                           font=dict(family=FN, size=13, color="#000000"))
for tl in time_labels_d12:
    fig.add_annotation(x=tx(f"12 {tl}") + 0.6, y=ylab, yref="paper", text=tl,
                       showarrow=False, xanchor="left", yanchor="middle",
                       font=dict(family=FN, size=13, color="#000000"))
fig.add_annotation(x=1603 / PW, xref="paper", y=ylab, yref="paper", text=now_label,
                   showarrow=False, xanchor="left", yanchor="middle",
                   font=dict(family=FN, size=13, color="#000000"))

# current price tag
fig.add_annotation(x=1598 / PW, xref="paper", y=394.50, yref="y", text=last_price,
                   showarrow=False, xanchor="left", yanchor="middle", bgcolor="#0000ff",
                   borderpad=0, width=50, align="left",
                   font=dict(family=FN, size=13, color="#ffffff"))
fig.add_annotation(x=1601 / PW, xref="paper", y=394.35, yref="y", text=last_change,
                   showarrow=False, xanchor="left", yanchor="middle", borderpad=0,
                   font=dict(family=FN, size=13, color="#0000ff"))

# frame pieces outside the plot
yb = 1 - 1008 / PH
fig.add_shape(type="line", xref="paper", yref="paper", x0=0, x1=1649 / PW, y0=yb, y1=yb,
              line=dict(color="#808080", width=1))
fig.add_shape(type="line", xref="paper", yref="paper", x0=1, x1=1, y0=0, y1=yb,
              line=dict(color="#808080", width=1))
fig.add_shape(type="rect", xref="paper", yref="paper", x0=0, x1=1660 / PW, y0=yb - 0.0005,
              y1=1 - 1013 / PH, fillcolor="#ececec", line=dict(width=0))
fig.add_shape(type="rect", xref="paper", yref="paper", x0=1649 / PW, x1=1661 / PW,
              y0=1 - 1013 / PH, y1=1.001, fillcolor="#e6e6ea", line=dict(width=0))
for k in range(21):
    ytop = 3 + 24.5 * k
    fig.add_shape(type="rect", xref="paper", yref="paper", x0=1651 / PW, x1=1662 / PW,
                  y0=1 - (ytop + 19) / PH, y1=1 - ytop / PH, fillcolor="#f6f6f6",
                  line=dict(color="#9a9aa2", width=1))

sep_x = [tx(t) for t in day_breaks] + \
        [tx(f"{d} {s}") for d in ("10", "11") for s in sep_times] + \
        [tx(f"12 {s}") for s in sep_times_d12]

fig.update_layout(
    width=1660, height=1012, margin=dict(l=0, r=65, t=0, b=21),
    plot_bgcolor="white", paper_bgcolor="white", showlegend=False, hovermode=False,
    xaxis=dict(range=[X_MIN, X_MAX], showgrid=False, zeroline=False, showline=True,
               linecolor="#808080", linewidth=1, ticks="outside", tickvals=sep_x,
               ticklen=17, tickcolor="#808080", tickwidth=1, showticklabels=False,
               rangeslider=dict(visible=False), fixedrange=True),
    yaxis=dict(range=[Y_MIN, Y_MAX], side="right", tickvals=y_ticks, ticktext=y_ticktext,
               showgrid=True, gridcolor="#d4d4d4", gridwidth=1, zeroline=False,
               ticks="outside", ticklen=5, tickcolor="#808080", showline=True,
               linecolor="#808080", tickfont=dict(family=FN, size=13, color="#000000"),
               minor=dict(dtick=0.2, tick0=393, ticks="outside", ticklen=3,
                          tickcolor="#808080", showgrid=False),
               fixedrange=True),
)

fig.write_html("out.html", config={"displayModeBar": False},
               post_script="document.body.style.margin='0px';"
                           "document.body.style.padding='0px';"
                           "document.body.style.overflow='hidden';")
